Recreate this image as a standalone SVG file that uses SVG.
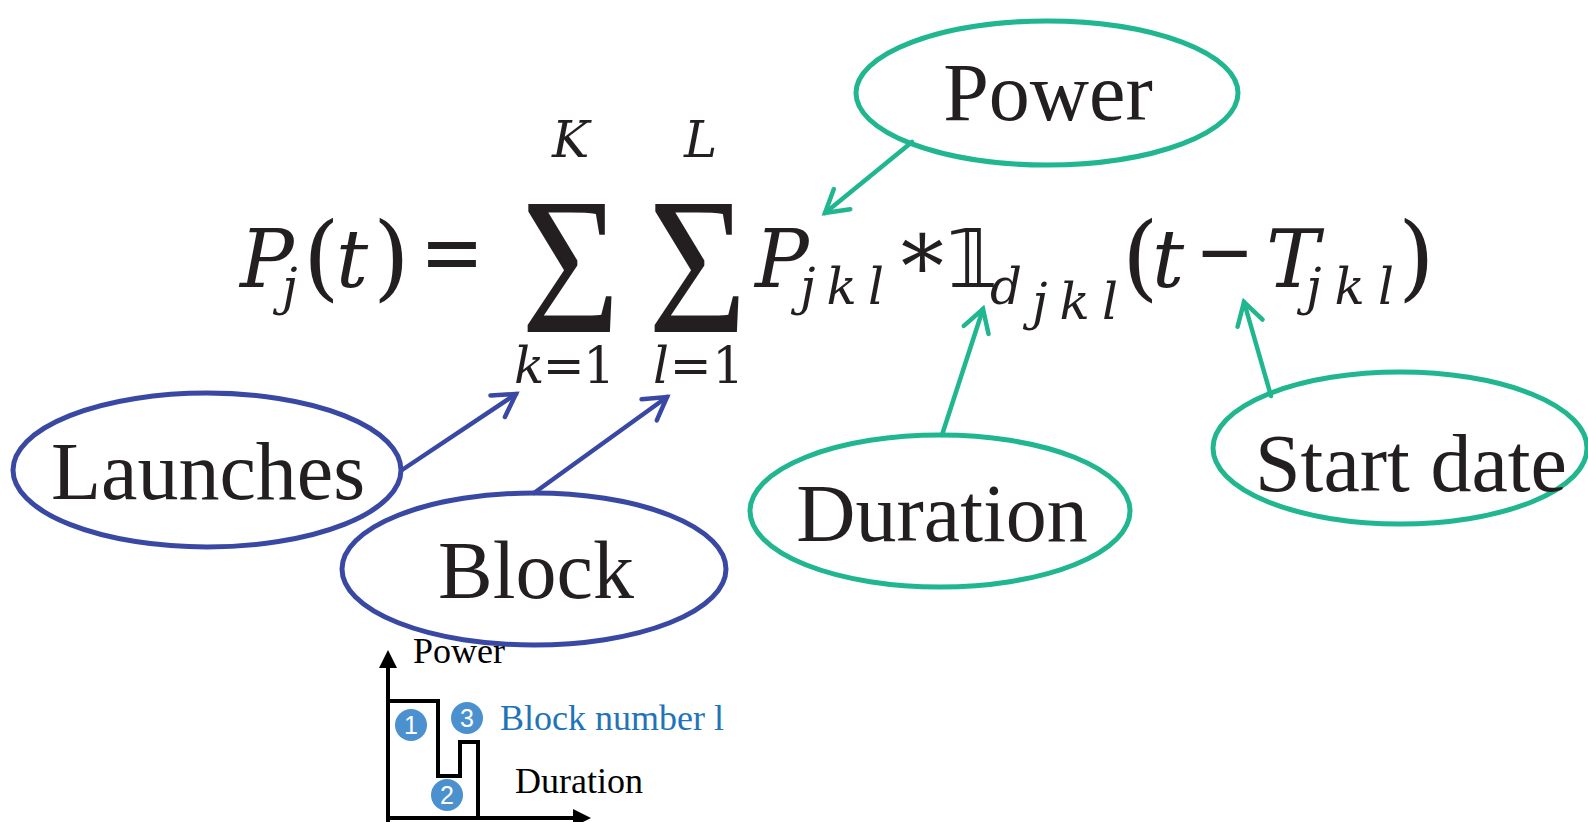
<svg xmlns="http://www.w3.org/2000/svg" width="1588" height="822" viewBox="0 0 1588 822">
<defs>
<style>
.lbl{font-family:"Liberation Serif","Times New Roman",serif;font-size:82px;fill:#231f20;text-anchor:middle}
.m{font-family:"DejaVu Serif",serif;font-style:italic;fill:#231f20;font-size:80px}
.s{font-family:"DejaVu Serif",serif;font-style:italic;fill:#231f20;font-size:50px}
.u{font-family:"DejaVu Serif",serif;font-style:normal;fill:#231f20}
.sig{font-family:"Liberation Serif","Times New Roman",serif;font-size:196px;fill:#231f20}
.eg{fill:none;stroke:#20b68f;stroke-width:5}
.eb{fill:none;stroke:#3949a3;stroke-width:5}
.ag{fill:none;stroke:#20b68f;stroke-width:4.5;stroke-linecap:round;marker-end:url(#mg)}
.ab{fill:none;stroke:#3949a3;stroke-width:4.5;stroke-linecap:round;marker-end:url(#mb)}
.small{font-family:"Liberation Serif","Times New Roman",serif;font-size:36px;fill:#000}
.num{fill:#4b91d0}
.numt{font-family:"Liberation Sans",Arial,sans-serif;font-size:25px;fill:#fff;text-anchor:middle}
</style>
<marker id="mg" markerUnits="userSpaceOnUse" markerWidth="40" markerHeight="40" viewBox="-30 -20 40 40" refX="0" refY="0" orient="auto">
<path d="M-22,-13 L0,0 L-22,13" fill="none" stroke="#20b68f" stroke-width="4.5" stroke-linecap="round" stroke-linejoin="miter"/>
</marker>
<marker id="mb" markerUnits="userSpaceOnUse" markerWidth="40" markerHeight="40" viewBox="-30 -20 40 40" refX="0" refY="0" orient="auto">
<path d="M-22,-13 L0,0 L-22,13" fill="none" stroke="#3949a3" stroke-width="4.5" stroke-linecap="round" stroke-linejoin="miter"/>
</marker>
</defs>
<rect width="1588" height="822" fill="#fff"/>

<g id="formula">
<text class="m" x="240" y="287">P</text>
<text class="s" x="282" y="304">j</text>
<text class="u" x="303" y="289" font-size="94">(</text>
<text class="m" x="336" y="287">t</text>
<text class="u" x="373" y="289" font-size="94">)</text>
<text class="u" x="420" y="283" font-size="90" textLength="64" lengthAdjust="spacingAndGlyphs">=</text>
<text class="sig" x="521" y="332" textLength="99" lengthAdjust="spacingAndGlyphs">Σ</text>
<text class="sig" x="648" y="332" textLength="99" lengthAdjust="spacingAndGlyphs">Σ</text>
<text class="s" x="552" y="157" font-size="48">K</text>
<text class="s" x="684" y="157" font-size="48">L</text>
<text class="s" x="514" y="383" textLength="101" lengthAdjust="spacing">k<tspan class="u">=1</tspan></text>
<text class="s" x="653" y="383" textLength="91" lengthAdjust="spacing">l<tspan class="u">=1</tspan></text>
<text class="m" x="755" y="287">P</text>
<text class="s" x="800" y="304" textLength="84" lengthAdjust="spacing">jkl</text>
<text class="u" x="893" y="279" font-size="86">∗</text>
<text x="947" y="287" font-family="DejaVu Sans,DejaVu Serif,sans-serif" font-size="80" fill="#231f20">𝟙</text>
<text class="s" x="990" y="304">d</text>
<text class="s" x="1032" y="319" textLength="86" lengthAdjust="spacing">jkl</text>
<text class="u" x="1122" y="289" font-size="94">(</text>
<text class="m" x="1152" y="287">t</text>
<text class="u" x="1195" y="279" font-size="80" textLength="59" lengthAdjust="spacingAndGlyphs">−</text>
<text class="m" x="1266" y="287">T</text>
<text class="s" x="1306" y="304" textLength="88" lengthAdjust="spacing">jkl</text>
<text class="u" x="1398" y="289" font-size="94">)</text>
</g>

<g id="node-power">
<ellipse class="eg" cx="1047" cy="93" rx="191" ry="72"/>
<text class="lbl" x="1048" y="120">Power</text>
</g>
<g id="node-launches">
<ellipse class="eb" cx="207" cy="470" rx="194" ry="77"/>
<text class="lbl" x="208" y="499">Launches</text>
</g>
<g id="node-block">
<ellipse class="eb" cx="534" cy="569" rx="192" ry="76"/>
<text class="lbl" x="536" y="598">Block</text>
</g>
<g id="node-duration">
<ellipse class="eg" cx="940" cy="511" rx="190" ry="76"/>
<text class="lbl" x="942" y="541">Duration</text>
</g>
<g id="node-start">
<ellipse class="eg" cx="1400" cy="448" rx="187" ry="76"/>
<text class="lbl" x="1411" y="491">Start date</text>
</g>

<g id="connectors">
<line class="ag" x1="912" y1="142" x2="825" y2="213"/>
<line class="ag" x1="942" y1="435" x2="983" y2="309"/>
<line class="ag" x1="1271" y1="396" x2="1244" y2="302"/>
<line class="ab" x1="402" y1="470" x2="516" y2="394"/>
<line class="ab" x1="534" y1="493" x2="667" y2="397"/>
</g>

<g id="block-chart">
<line x1="388" y1="822" x2="388" y2="662" stroke="#000" stroke-width="4"/>
<polygon points="388,650 379,668 397,668" fill="#000"/>
<line x1="386" y1="818" x2="578" y2="818" stroke="#000" stroke-width="4"/>
<polygon points="591,818 573,809 573,827" fill="#000"/>
<polyline points="388,701 438,701 438,776 460,776 460,742 478,742 478,818" fill="none" stroke="#000" stroke-width="4"/>
<circle class="num" cx="411" cy="725" r="16"/>
<text class="numt" x="411" y="734">1</text>
<circle class="num" cx="447" cy="795" r="16"/>
<text class="numt" x="447" y="804">2</text>
<circle class="num" cx="467" cy="718" r="16"/>
<text class="numt" x="467" y="727">3</text>
<text class="small" x="413" y="663">Power</text>
<text class="small" x="500" y="730" style="fill:#1f74b9">Block number l</text>
<text class="small" x="515" y="793">Duration</text>
</g>
</svg>
